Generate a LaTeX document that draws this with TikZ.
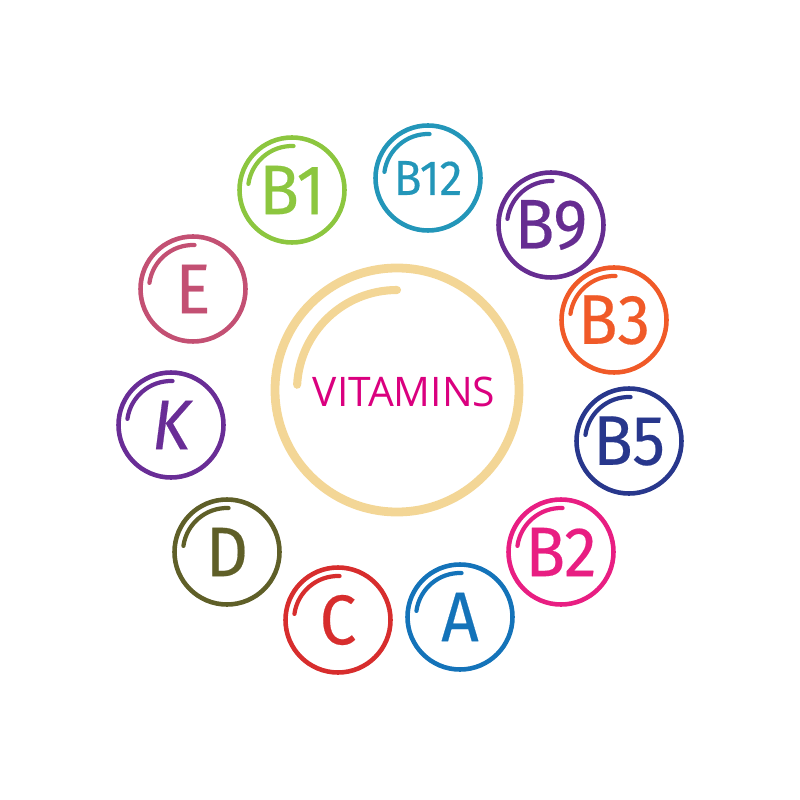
\documentclass[tikz,border=0pt]{standalone}
\usepackage{fontspec}
\usepackage{tikz}
\newfontfamily\vitfont[FakeStretch=0.93, FakeBold=0.3]{Fira Sans}
\newfontfamily\titlefont{Open Sans}

\definecolor{cBone}{RGB}{140,198,63}
\definecolor{cBtwelve}{RGB}{35,150,185}
\definecolor{cBnine}{RGB}{102,45,145}
\definecolor{cBthree}{RGB}{240,90,40}
\definecolor{cBfive}{RGB}{40,55,140}
\definecolor{cBtwo}{RGB}{232,30,130}
\definecolor{cA}{RGB}{20,115,185}
\definecolor{cC}{RGB}{215,45,45}
\definecolor{cD}{RGB}{95,95,40}
\definecolor{cK}{RGB}{105,45,150}
\definecolor{cE}{RGB}{195,80,115}
\definecolor{cRing}{RGB}{243,214,150}
\definecolor{cTitle}{RGB}{218,0,127}

\begin{document}
\begin{tikzpicture}[
    vit/.style={circle, draw=#1, text=#1, line width=1.3pt, minimum size=1.05cm,
                inner sep=0pt, font=\vitfont\fontsize{20}{20}\selectfont},
    shine/.style={line width=1.2pt, line cap=round},
    hub/.style={circle, draw=cRing, line width=2.5pt, minimum size=2.44cm,
                inner sep=0pt}
]
\useasboundingbox (0,0) rectangle (8,-8);

% --- centre ---
\node[hub] (hub) at (3.97,-3.90) {};
\node[text=cTitle, font=\titlefont\fontsize{11.6}{12}\selectfont] (title) at (4.04,-3.92) {VITAMINS};
\draw[cRing, line width=2.3pt, line cap=round] (hub.center) ++(90:1.0) arc (90:177:1.0);

% --- vitamins around ---
\node[vit=cBone] (b1) at (2.92,-1.90) {B1};
\node[vit=cBtwelve, font=\vitfont\fontsize{14}{14}\selectfont] (b12) at (4.28,-1.78) {B12};
\node[vit=cBnine] (b9) at (5.51,-2.25) {B9};
\node[vit=cBthree] (b3) at (6.14,-3.20) {B3};
\node[vit=cBfive] (b5) at (6.29,-4.41) {B5};
\node[vit=cBtwo] (b2) at (5.61,-5.52) {B2};
\node[vit=cA] (a) at (4.60,-6.17) {A};
\node[vit=cC] (c) at (3.38,-6.20) {C};
\node[vit=cD] (d) at (2.27,-5.52) {D};
\node[vit=cK, font=\vitfont\itshape\fontsize{20}{20}\selectfont] (k) at (1.71,-4.25) {K};
\node[vit=cE] (e) at (1.93,-2.89) {E};

% highlights
\foreach \n/\col in {b1/cBone, b12/cBtwelve, b9/cBnine, b3/cBthree, b5/cBfive,
                     b2/cBtwo, a/cA, c/cC, d/cD, k/cK, e/cE}
  \draw[shine, \col] (\n.center) ++(88:0.44) arc (88:172:0.44);

\end{tikzpicture}
\end{document}
